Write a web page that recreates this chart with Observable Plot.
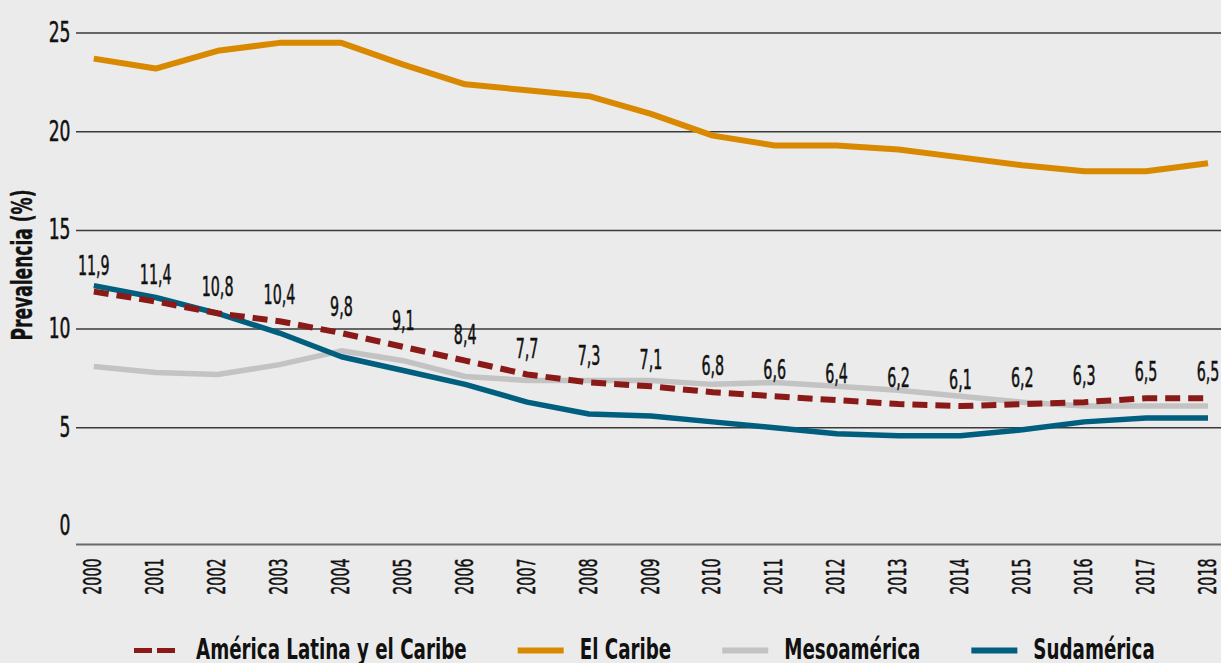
<!DOCTYPE html>
<html><head><meta charset="utf-8">
<script src="https://cdn.jsdelivr.net/npm/d3@7"></script>
<script src="https://cdn.jsdelivr.net/npm/@observablehq/plot@0.6"></script>
<style>
html,body{margin:0;padding:0;background:#ebebeb;}
body{width:1221px;height:663px;overflow:hidden;font-family:"DejaVu Sans Condensed","DejaVu Sans",sans-serif;}
#chart svg,#legend svg{display:block;background:#ebebeb;}
</style></head><body>
<div id="chart"></div>
<div id="legend"></div>
<script>
const years = [2000,2001,2002,2003,2004,2005,2006,2007,2008,2009,2010,2011,2012,2013,2014,2015,2016,2017,2018];
const alc    = [11.9,11.4,10.8,10.4,9.8,9.1,8.4,7.7,7.3,7.1,6.8,6.6,6.4,6.2,6.1,6.2,6.3,6.5,6.5];
const caribe = [23.7,23.2,24.1,24.5,24.5,23.4,22.4,22.1,21.8,20.9,19.8,19.3,19.3,19.1,18.7,18.3,18.0,18.0,18.4];
const meso   = [8.1,7.8,7.7,8.2,8.9,8.4,7.6,7.4,7.4,7.4,7.2,7.3,7.1,6.9,6.6,6.3,6.1,6.1,6.1];
const sud    = [12.2,11.6,10.8,9.8,8.6,7.9,7.2,6.3,5.7,5.6,5.3,5.0,4.7,4.6,4.6,4.9,5.3,5.5,5.5];
const seriesNames  = ["América Latina y el Caribe","El Caribe","Mesoamérica","Sudamérica"];
const seriesColors = ["#8a1a17","#d98900","#c3c3c3","#005e7e"];
const yTicks = [0,5,10,15,20,25];
const gridTicks = [5,10,15,20,25];
const yTitle = "Prevalencia (%)";

const toRows = (vals, name) => years.map((year, i) => ({year, value: vals[i], series: name}));
const rowsALC = toRows(alc, seriesNames[0]);
const rowsCar = toRows(caribe, seriesNames[1]);
const rowsMeso = toRows(meso, seriesNames[2]);
const rowsSud = toRows(sud, seriesNames[3]);
const fmt = v => v.toFixed(1).replace(".", ",");
const FONT = '"DejaVu Sans Condensed","DejaVu Sans",sans-serif';

const chart = Plot.plot({
  width: 1221,
  height: 620,
  marginLeft: 76,
  marginRight: 0,
  marginTop: 0,
  marginBottom: 76,
  style: {fontFamily: FONT, background: "#ebebeb", color: "#111"},
  x: {domain: [2000, 2018], insetLeft: 17.3, insetRight: 13.5},
  y: {domain: [0, 25], insetTop: 32.5, insetBottom: 18},
  marks: [
    Plot.ruleY(gridTicks, {stroke: "#3a3a3a", strokeWidth: 1.5}),
    Plot.ruleY([0], {dy: 18, stroke: "#6a6a6a", strokeWidth: 2}),
    Plot.axisY({ticks: yTicks, tickSize: 0, tickPadding: 6, fontSize: 28, label: null, tickFormat: d => String(d)}),
    Plot.axisX({ticks: years, tickSize: 0, tickPadding: 14, tickRotate: -90, fontSize: 24, label: null, tickFormat: d => String(d)}),
    Plot.text([yTitle], {frameAnchor: "left", textAnchor: "middle", rotate: -90, dx: -54, dy: -7.5, fontSize: 29, fontWeight: "bold", fill: "#111"}),
    Plot.line(rowsMeso, {x: "year", y: "value", stroke: seriesColors[2], strokeWidth: 5.5, strokeLinecap: "butt"}),
    Plot.line(rowsSud, {x: "year", y: "value", stroke: seriesColors[3], strokeWidth: 5.5, strokeLinecap: "butt"}),
    Plot.line(rowsCar, {x: "year", y: "value", stroke: seriesColors[1], strokeWidth: 6, strokeLinecap: "butt"}),
    Plot.line(rowsALC, {x: "year", y: "value", stroke: seriesColors[0], strokeWidth: 6, strokeDasharray: "15,8", strokeLinecap: "butt"}),
    Plot.text(rowsALC, {x: "year", y: "value", text: d => fmt(d.value), lineAnchor: "bottom", dy: -17, fontSize: 26, fill: "#111"})
  ]
});
document.getElementById("chart").appendChild(chart);

// condense glyphs (and thicken slightly) to mimic the narrow medium typeface of the original
function squeeze(t, k, target, thick) {
  const L = t.getComputedTextLength();
  if (L > 0) {
    t.setAttribute("textLength", (target != null ? target : L * k).toFixed(2));
    t.setAttribute("lengthAdjust", "spacingAndGlyphs");
  }
  if (thick) {
    t.setAttribute("stroke", "#111");
    t.setAttribute("stroke-width", thick);
  }
}
chart.querySelectorAll("text").forEach(t => {
  const s = t.textContent.trim();
  if (s === yTitle) squeeze(t, null, 151, 0.4);
  else if (/^\d{4}$/.test(s)) squeeze(t, 0.66, null, 0.5);
  else if (/^\d+$/.test(s)) squeeze(t, 0.68, null, 0.5);
  else if (/^\d+,\d$/.test(s)) squeeze(t, 0.61, null, 0.5);
});

// legend below the chart
const lsvg = d3.select("#legend").append("svg").attr("width", 1221).attr("height", 43);
let lx = 134;
const kL = 0.70;
seriesNames.forEach((name, i) => {
  const ln = lsvg.append("line")
    .attr("x1", lx).attr("x2", lx + 46).attr("y1", 30.5).attr("y2", 30.5)
    .attr("stroke", seriesColors[i]).attr("stroke-width", i === 0 ? 5 : 6);
  if (i === 0) ln.attr("stroke-dasharray", "18,5");
  const t = lsvg.append("text")
    .attr("x", lx + 62).attr("y", 39)
    .attr("font-family", FONT).attr("font-weight", "bold").attr("font-size", 29)
    .attr("fill", "#111").text(name);
  const L = t.node().getComputedTextLength() * kL;
  t.attr("textLength", L.toFixed(2)).attr("lengthAdjust", "spacingAndGlyphs");
  lx += 62 + L + 51;
});
</script>
</body></html>
